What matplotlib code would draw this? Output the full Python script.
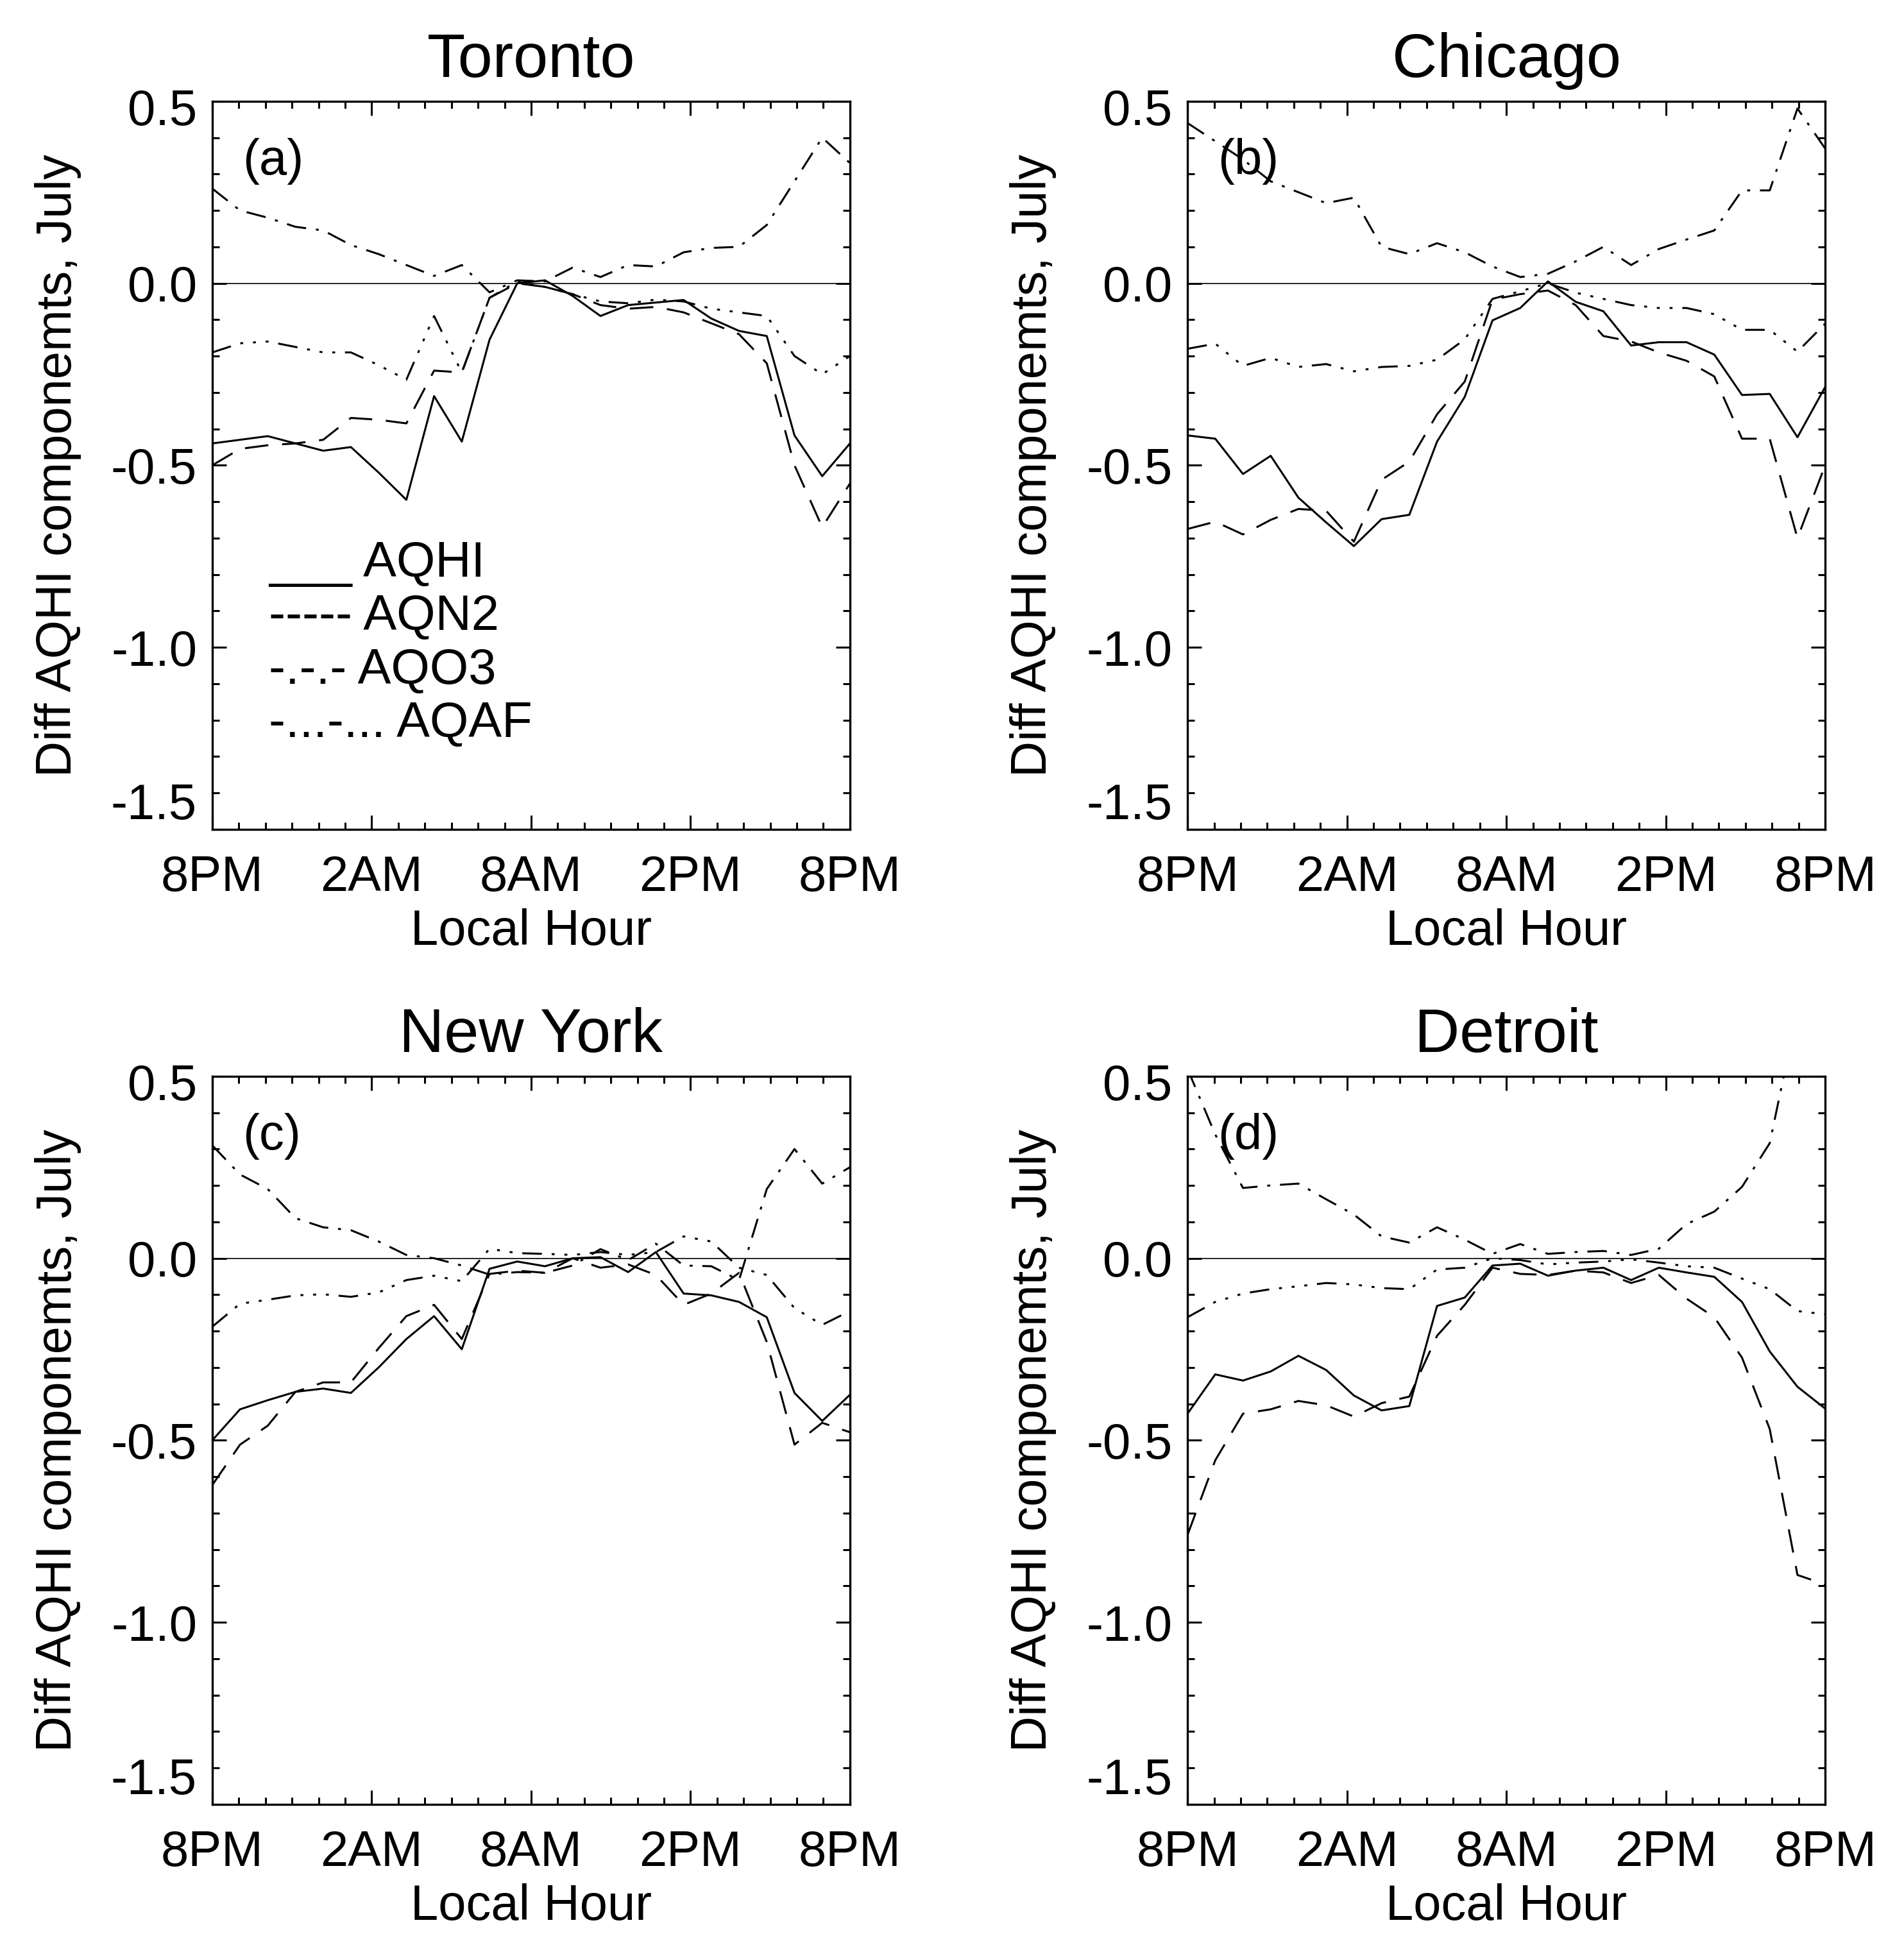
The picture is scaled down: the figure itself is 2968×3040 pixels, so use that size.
import numpy as np
import matplotlib
matplotlib.use('Agg')
import matplotlib.pyplot as plt
from matplotlib.ticker import MultipleLocator
from matplotlib.transforms import ScaledTranslation

plt.rcParams['font.family'] = ['Liberation Sans', 'DejaVu Sans']

# 24 hourly values per curve, spread over the 8PM -> 8PM axis
hours = np.arange(24)
xticks = [0, 6, 12, 18, 24]
xticklabels = ['8PM', '2AM', '8AM', '2PM', '8PM']
yticks = [-1.5, -1.0, -0.5, 0.0, 0.5]
yticklabels = ['-1.5', '-1.0', '-0.5', '0.0', '0.5']

cities = ['Toronto', 'Chicago', 'New York', 'Detroit']
panel_tags = ['(a)', '(b)', '(c)', '(d)']
series_names = ['AQHI', 'AQN2', 'AQO3', 'AQAF']
legend_marks = ['___', '-----', '-.-.-', '-...-...']

# Toronto
toronto_aqhi = [-0.44, -0.43, -0.42, -0.44, -0.46, -0.45, -0.52, -0.595, -0.31, -0.435, -0.155, 0.0,
                0.008, -0.035, -0.09, -0.06, -0.053, -0.046, -0.097, -0.131, -0.145, -0.418, -0.53, -0.44]
toronto_aqn2 = [-0.50, -0.455, -0.445, -0.44, -0.43, -0.37, -0.375, -0.385, -0.24, -0.245, -0.04, 0.0,
                -0.01, -0.03, -0.06, -0.07, -0.065, -0.08, -0.11, -0.14, -0.22, -0.50, -0.67, -0.55]
toronto_aqo3 = [0.26, 0.20, 0.18, 0.155, 0.145, 0.105, 0.08, 0.05, 0.02, 0.05, -0.025, 0.008,
                0.005, 0.043, 0.017, 0.05, 0.046, 0.085, 0.097, 0.10, 0.16, 0.28, 0.40, 0.33]
toronto_aqaf = [-0.19, -0.165, -0.16, -0.175, -0.19, -0.19, -0.225, -0.265, -0.09, -0.245, -0.04, 0.005,
                -0.01, -0.03, -0.05, -0.055, -0.045, -0.05, -0.07, -0.08, -0.09, -0.20, -0.25, -0.20]

# Chicago
chicago_aqhi = [-0.418, -0.427, -0.524, -0.474, -0.589, -0.657, -0.722, -0.648, -0.636, -0.435, -0.312, -0.102,
                -0.068, 0.005, -0.051, -0.077, -0.171, -0.162, -0.162, -0.196, -0.307, -0.304, -0.423, -0.285]
chicago_aqn2 = [-0.675, -0.655, -0.69, -0.65, -0.62, -0.625, -0.71, -0.54, -0.49, -0.36, -0.27, -0.045,
                -0.03, -0.02, -0.06, -0.145, -0.16, -0.19, -0.213, -0.256, -0.427, -0.427, -0.70, -0.50]
chicago_aqo3 = [0.44, 0.39, 0.34, 0.28, 0.25, 0.22, 0.235, 0.10, 0.08, 0.11, 0.085, 0.046,
                0.017, 0.026, 0.06, 0.10, 0.05, 0.094, 0.12, 0.145, 0.255, 0.255, 0.48, 0.37]
chicago_aqaf = [-0.18, -0.166, -0.227, -0.205, -0.23, -0.222, -0.242, -0.23, -0.227, -0.21, -0.154, -0.043,
                -0.022, 0.0, -0.026, -0.043, -0.06, -0.068, -0.068, -0.085, -0.128, -0.128, -0.188, -0.111]

# New York
newyork_aqhi = [-0.50, -0.415, -0.39, -0.367, -0.358, -0.37, -0.30, -0.222, -0.159, -0.25, -0.029, -0.009,
                -0.022, 0.0, 0.003, -0.038, 0.017, -0.097, -0.102, -0.12, -0.162, -0.37, -0.447, -0.375]
newyork_aqn2 = [-0.623, -0.512, -0.46, -0.367, -0.341, -0.341, -0.247, -0.159, -0.128, -0.222, -0.043, -0.034,
                -0.04, 0.0, -0.026, -0.017, -0.046, -0.128, -0.097, -0.04, -0.23, -0.512, -0.452, -0.478]
newyork_aqo3 = [0.31, 0.23, 0.19, 0.11, 0.085, 0.077, 0.046, 0.009, 0.0, -0.02, -0.045, -0.038,
                -0.04, -0.02, 0.025, -0.005, 0.04, -0.02, -0.022, -0.06, 0.19, 0.30, 0.205, 0.25]
newyork_aqaf = [-0.188, -0.125, -0.114, -0.102, -0.099, -0.106, -0.094, -0.06, -0.048, -0.063, 0.026, 0.014,
                0.012, 0.009, 0.017, 0.009, 0.017, 0.06, 0.046, -0.026, -0.046, -0.137, -0.183, -0.145]

# Detroit
detroit_aqhi = [-0.427, -0.319, -0.336, -0.311, -0.268, -0.307, -0.377, -0.418, -0.406, -0.131, -0.108, -0.02,
                -0.015, -0.048, -0.034, -0.026, -0.06, -0.026, -0.039, -0.051, -0.12, -0.256, -0.353, -0.413]
detroit_aqn2 = [-0.76, -0.555, -0.427, -0.415, -0.392, -0.404, -0.435, -0.398, -0.38, -0.213, -0.128, -0.026,
                -0.043, -0.046, -0.034, -0.039, -0.068, -0.046, -0.111, -0.162, -0.273, -0.469, -0.87, -0.896]
detroit_aqo3 = [0.52, 0.34, 0.193, 0.20, 0.205, 0.162, 0.12, 0.06, 0.043, 0.085, 0.051, 0.012,
                0.039, 0.012, 0.017, 0.02, 0.009, 0.026, 0.094, 0.128, 0.196, 0.316, 0.68, 0.85]
detroit_aqaf = [-0.162, -0.12, -0.097, -0.085, -0.077, -0.068, -0.072, -0.082, -0.085, -0.031, -0.026, 0.0,
                -0.005, -0.017, -0.012, -0.009, -0.003, -0.012, -0.022, -0.026, -0.056, -0.085, -0.145, -0.154]

city_series = [
    [toronto_aqhi, toronto_aqn2, toronto_aqo3, toronto_aqaf],
    [chicago_aqhi, chicago_aqn2, chicago_aqo3, chicago_aqaf],
    [newyork_aqhi, newyork_aqn2, newyork_aqo3, newyork_aqaf],
    [detroit_aqhi, detroit_aqn2, detroit_aqo3, detroit_aqaf],
]

# IDL-like line styles: solid, dashed, dash-dot, dash-dot-dot-dot
line_dashes = [None, (12, 7), (10, 5, 1.5, 5), (10, 5, 1.5, 5, 1.5, 5, 1.5, 5)]

fig = plt.figure(figsize=(14.84, 15.2), dpi=200)
boxes = [
    [0.1115, 0.5747, 0.3349, 0.3734],
    [0.6237, 0.5747, 0.3349, 0.3734],
    [0.1115, 0.0747, 0.3349, 0.3734],
    [0.6237, 0.0747, 0.3349, 0.3734],
]

x = hours * 24.0 / 23.0

for k, box in enumerate(boxes):
    ax = fig.add_axes(box)
    ax.hlines(0.0, 0, 23.5, color='black', lw=0.6)
    for vals, dsh in zip(city_series[k], line_dashes):
        if dsh is None:
            ax.plot(x, vals, color='black', lw=1.1, ls='-')
        else:
            ax.plot(x, vals, color='black', lw=1.1, ls='--', dashes=dsh)

    ax.set_xlim(0, 24)
    ax.set_ylim(-1.5, 0.5)
    ax.set_xticks(xticks, xticklabels)
    ax.set_yticks(yticks, yticklabels)
    ax.xaxis.set_minor_locator(MultipleLocator(1))
    ax.yaxis.set_minor_locator(MultipleLocator(0.1))
    ax.tick_params(which='both', direction='in', top=True, right=True, width=1.1, labelsize=28)
    ax.tick_params(which='major', length=8)
    ax.tick_params(which='minor', length=4)
    ax.tick_params(axis='x', pad=14)
    ax.tick_params(axis='y', pad=8.6)
    for lab in ax.get_yticklabels():
        if lab.get_text() == '0.5':
            lab.set_va('top')
            lab.set_transform(lab.get_transform() + ScaledTranslation(0, 7 / 72, fig.dpi_scale_trans))
        elif lab.get_text() == '-1.5':
            lab.set_va('bottom')
    for sp in ax.spines.values():
        sp.set_linewidth(1.2)

    ax.set_title(cities[k], fontsize=35, pad=13.5)
    ax.set_xlabel('Local Hour', fontsize=28, labelpad=4)
    ax.set_ylabel('Diff AQHI componemts, July', fontsize=28, labelpad=16.5)
    ax.text(0.047, 0.899, panel_tags[k], transform=ax.transAxes, fontsize=28, va='baseline')

    if k == 0:
        for j, (mark, name) in enumerate(zip(legend_marks, series_names)):
            ax.text(0.0885, 0.347 - j * 0.0735, mark + ' ' + name, transform=ax.transAxes,
                    fontsize=28, va='baseline')

fig.savefig('out.png', dpi=200)
